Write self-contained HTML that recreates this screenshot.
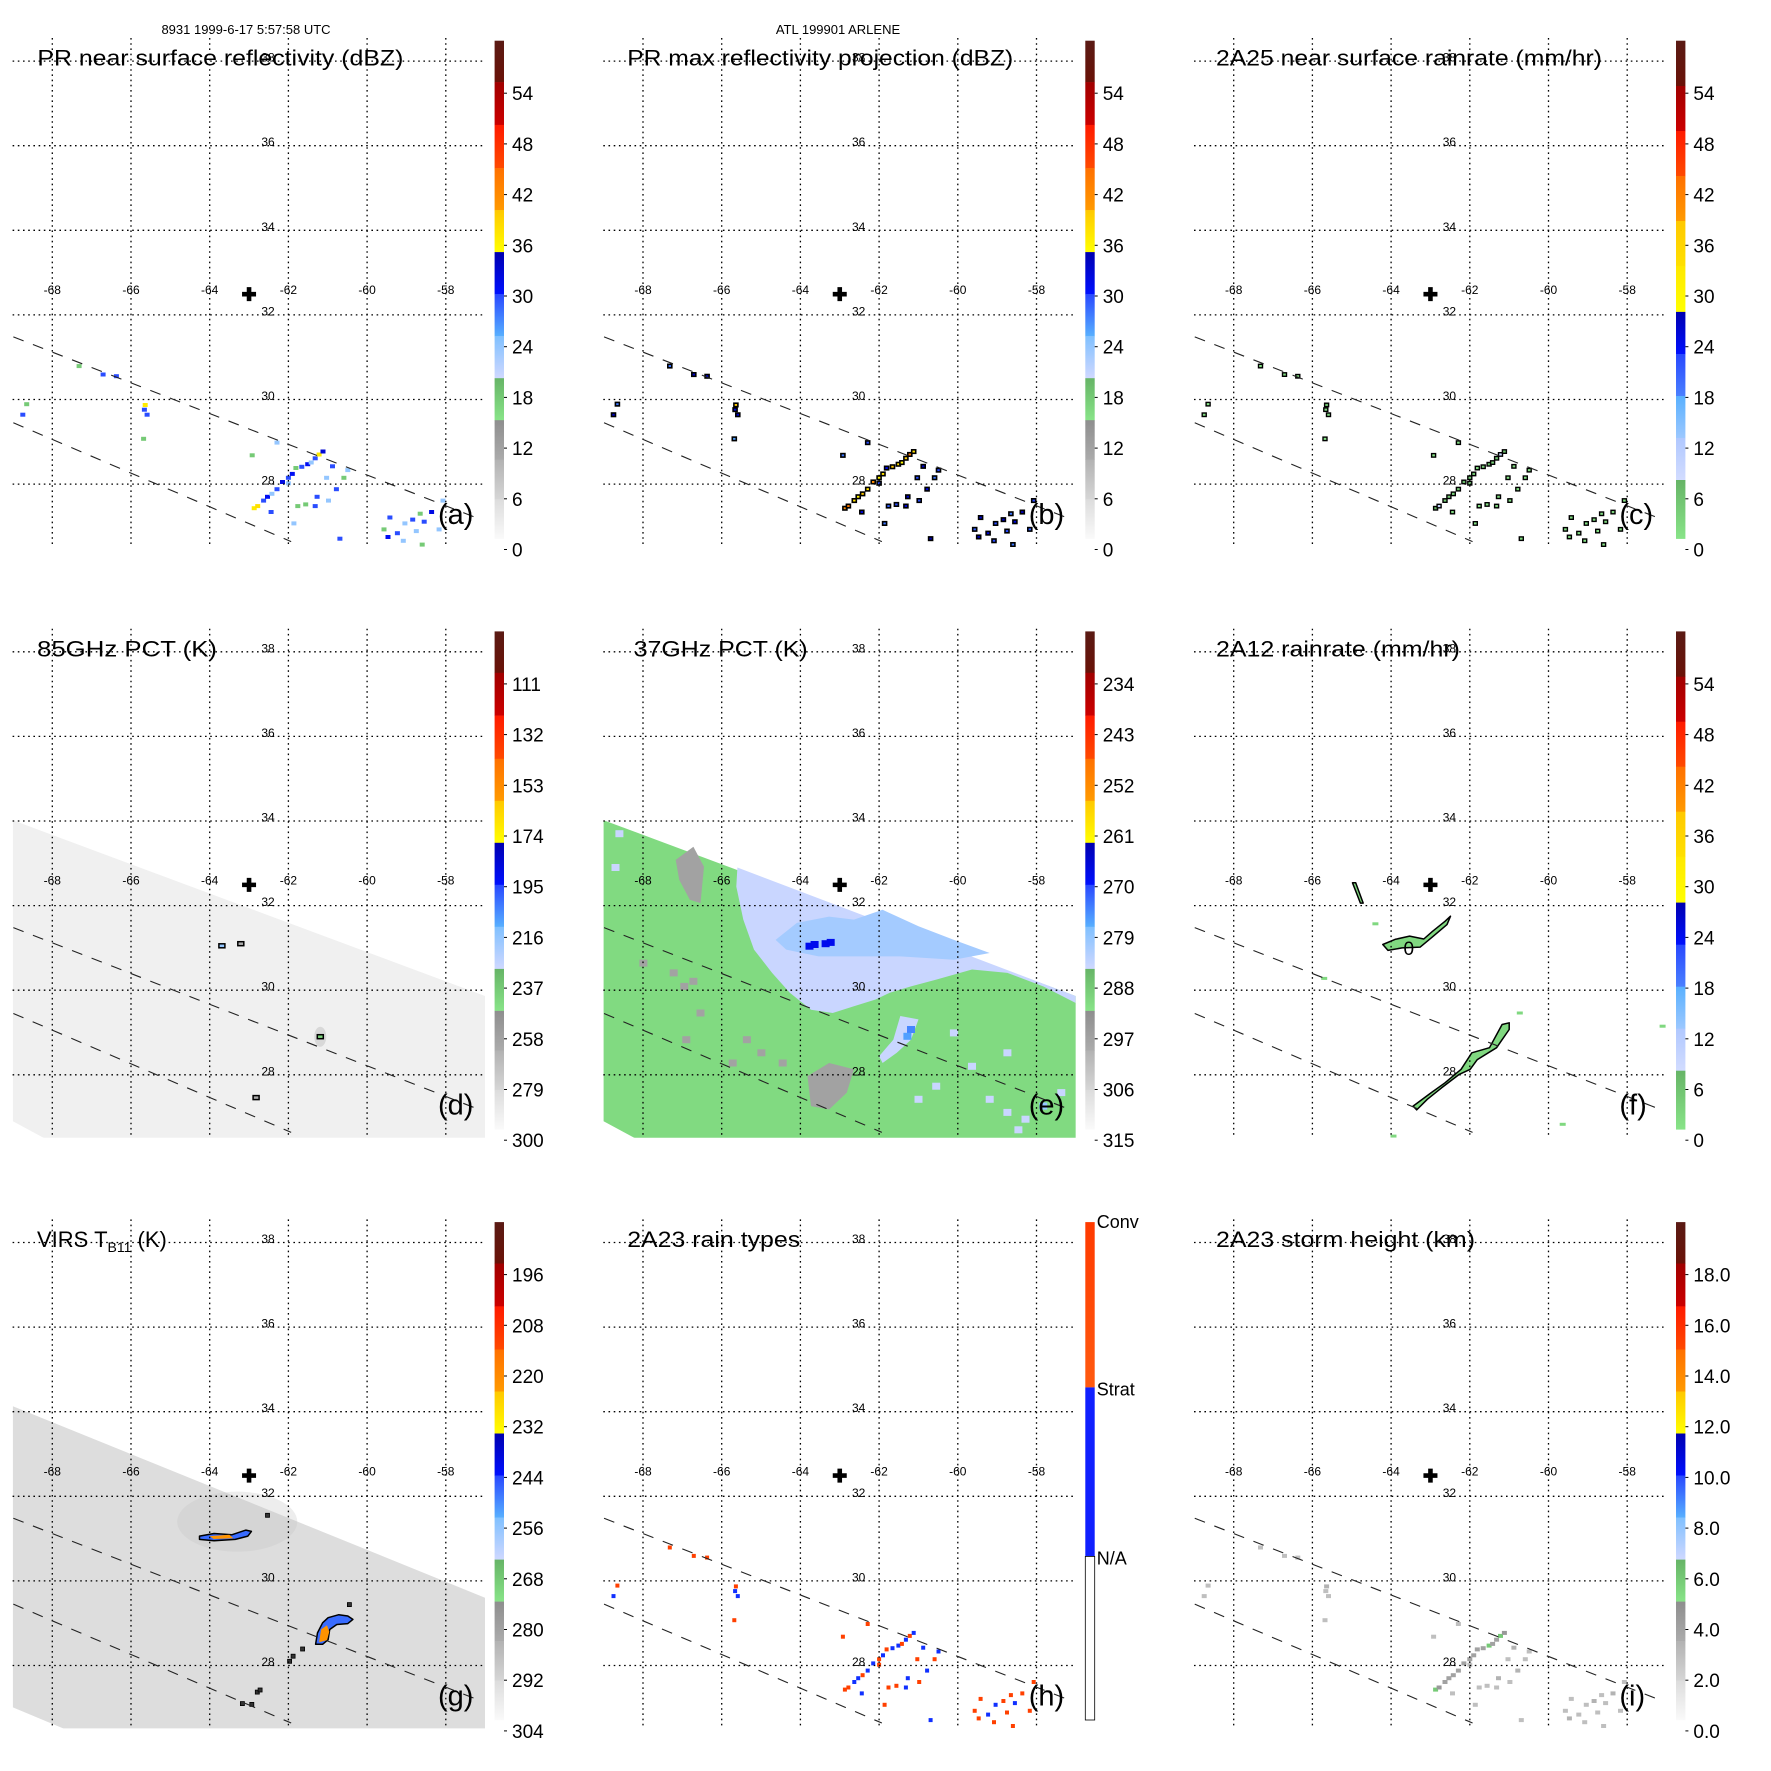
<!DOCTYPE html>
<html><head><meta charset="utf-8"><style>
html,body{margin:0;padding:0;background:#fff;}
svg{display:block;font-family:"Liberation Sans",Arial,sans-serif;}
</style></head><body>
<svg id="root" xmlns="http://www.w3.org/2000/svg" width="1771" height="1771" viewBox="0 0 1771 1771">
<rect x="0" y="0" width="1771" height="1771" fill="#fff"/>
<text x="246" y="34" font-size="13" text-anchor="middle">8931 1999-6-17 5:57:58 UTC</text>
<text x="838" y="34" font-size="13" text-anchor="middle">ATL 199901 ARLENE</text>
</svg>
<script>
// ---------------- data ----------------
const lonTicks = [-68,-66,-64,-62,-60,-58];
const latTicks = [38,36,34,32,30,28];
const centerLon = -63.0, centerLat = 32.49;
const swathUpperLon = [-68.99,-57.10];
const swathUpperLat = [31.48,27.16];
const swathLowerLon = [-68.99,-61.93];
const swathLowerLat = [29.45,26.64];

const stormLon = [-62.87,-62.78,-62.63,-62.53,-62.42,-62.29,-62.15,-62.00,-61.90,-61.81,-61.66,-61.51,-61.42,-61.32,-61.22,-61.12,
 -60.88,-61.03,-60.78,-60.59,-60.49,-61.27,-61.56,-61.76,-61.32,-60.98,-61.86,-60.69,-62.00,-62.44,
 -59.42,-59.57,-59.47,-59.04,-58.84,-58.65,-58.75,-58.55,-58.36,-58.17,-59.08,-58.60,-59.23,-58.07,
 -67.32,-66.71,-66.37,-68.65,-68.75,-65.64,-65.66,-65.59,-65.68,-62.92,-62.29];
const stormLat = [27.43,27.48,27.61,27.70,27.77,27.88,28.05,28.15,28.24,28.38,28.41,28.47,28.51,28.61,28.70,28.77,
 28.42,28.15,27.88,28.15,28.33,27.70,27.52,27.48,27.48,27.61,27.07,26.71,28.02,27.34,
 27.21,26.93,26.75,27.07,27.16,27.30,26.89,27.11,27.34,26.93,26.66,26.57,26.84,27.61,
 30.79,30.59,30.55,29.89,29.64,29.87,29.76,29.64,29.07,28.68,28.98];
const aVals = [37,38,30,31,24,30,32,30,31,18,30,31,24,30,37,33, 30,24,30,18,24,30,18,18,30,24,24,30,24,30, 30,18,31,24,30,18,24,30,32,24,24,18,30,24, 18,30,30,18,30,37,30,30,18,18,24];
const bVals = [42,44,38,36,40,38,42,36,38,32,40,38,36,40,44,38, 34,30,33,28,30,34,30,29,33,30,28,35,30,33, 33,29,35,30,34,28,30,33,35,29,30,28,33,30, 28,34,33,28,34,40,33,34,26,28,30];
const cVals = [8,10,5,5,4,6,8,5,6,3,5,6,4,6,10,7, 3,2,3,2,2,3,2,2,3,2,2,3,2,3, 3,2,4,2,3,2,2,3,4,2,2,2,3,2, 1,3,3,1,3,6,3,3,1,1,2];
const hTypes = [2,2,1,1,2,1,1,2,1,2,1,1,2,1,2,1, 1,2,1,2,1,1,2,2,1,2,2,1,2,1, 2,2,2,1,2,2,2,1,2,2,2,2,1,2, 2,2,2,2,1,2,1,1,2,2,2];
const iVals = [6,4.5,4,4,4,4,4,4,4,4,4,6,4,4,6,4.5, 3.5,3,3.5,3,3,3.5,3,3,3,3,3,3,3,3, 3,3,3.5,3,3.5,3,3,3,3.5,3,3,3,3,3, 3,3,3,3,3,3.5,3,3,3,3,3];

const ticksA = [54,48,42,36,30,24,18,12,6,0];
const ticksD = [111,132,153,174,195,216,237,258,279,300];
const ticksE = [234,243,252,261,270,279,288,297,306,315];
const ticksG = [196,208,220,232,244,256,268,280,292,304];
const ticksI = ["18.0","16.0","14.0","12.0","10.0","8.0","6.0","4.0","2.0","0.0"];
const rainTypeLabels = ["Conv","Strat","N/A"];

const swathLon = [-69.0,-57.0,-57.0,-68.0,-69.0];
const swathLat = [34.02,29.86,26.4,26.4,26.9];
const swathGLon = [-69.0,-57.0,-57.0,-67.43,-69.0];
const swathGLat = [34.13,29.6,26.4,26.4,27.01];
const dSwathVal = 290, eSwathVal = 290.5, gSwathVal = 292.5;

const dBlobLon = [-63.69,-63.21,-61.19,-62.82];
const dBlobLat = [31.05,31.10,28.90,27.46];
const dBlobVal = [216,262,240,262];

const eLavLon = [-65.6,-57.0,-57.01,-57.83,-58.74,-59.64,-60.55,-61.19,-61.73,-62.09,-62.64,-63.18,-63.73,-64.27,-64.72,-65.18,-65.45,-65.63];
const eLavLat = [32.9,29.86,29.70,30.09,30.41,30.49,30.25,30.09,29.94,29.78,29.62,29.46,29.54,29.94,30.41,30.96,31.67,32.45];
const eLavVal = 284;
const eTailLon = [-61.46,-61.00,-61.19,-61.55,-61.91,-62.0,-61.64];
const eTailLat = [29.39,29.31,28.83,28.52,28.28,28.44,28.83];
const eBlueLon = [-64.63,-64.09,-63.27,-62.64,-61.91,-61.00,-60.10,-59.19,-60.10,-61.46,-62.64,-63.54,-64.36];
const eBlueLat = [31.19,31.59,31.74,31.67,31.90,31.51,31.19,30.88,30.72,30.80,30.80,30.80,30.96];
const eBlueVal = 280.5;
const eGrayStreakLon = [-67.17,-66.72,-66.45,-66.54,-66.81,-67.08];
const eGrayStreakLat = [33.08,33.39,32.92,32.06,32.14,32.61];
const eGrayBlobLon = [-63.82,-63.27,-62.64,-62.82,-63.27,-63.73];
const eGrayBlobLat = [27.97,28.28,28.13,27.58,27.18,27.26];
const eGrayVal = 297;
const eCellLon = [-63.77,-63.64,-63.36,-63.23,-61.19,-61.28, -67.22,-66.72,-66.95,-66.54,-66.90,-65.72,-65.36,-64.99,-64.45,-67.99,
 -59.19,-58.74,-58.28,-59.64,-57.37,-60.55,-61.0,-57.83,-60.10,-58.74,-68.7,-68.6,-58.46];
const eCellLat = [31.04,31.08,31.10,31.13,29.07,28.91, 30.41,30.21,30.09,29.46,28.83,28.28,28.83,28.52,28.28,30.64,
 27.42,27.11,26.95,28.2,27.58,27.73,27.42,27.26,28.99,28.52,32.9,33.7,26.7];
const eCellVal = [268,268,268,268,274,276, 297,297,297,297,297,297,297,297,297,297,
 284,284,284,284,284,284,284,279,284,284,284,284,284];

const fMainLon = [-63.44,-62.99,-62.63,-62.22,-61.95,-61.50,-61.32,-61.18,-61.0,-61.0,-61.18,-61.32,-61.81,-61.99,-62.27,-62.72,-63.08,-63.35];
const fMainLat = [27.26,27.57,27.81,28.13,28.52,28.64,28.95,29.19,29.23,29.07,28.83,28.64,28.36,28.13,28.01,27.69,27.42,27.17];
const fEyeLon = [-64.21,-63.90,-63.53,-63.17,-62.95,-62.63,-62.49,-62.58,-62.95,-63.26,-63.72,-64.08];
const fEyeLat = [31.08,31.20,31.28,31.21,31.39,31.63,31.75,31.55,31.26,31.02,31.00,30.94];
const fStreakLon = [-64.98,-64.90,-64.71,-64.78];
const fStreakLat = [32.54,32.54,32.06,32.06];
const fBitLon = [-64.40,-60.73,-59.64,-63.94,-65.7,-57.1];
const fBitLat = [31.57,29.46,26.83,26.55,30.28,29.15];
const fVal = 3;

const gUpperLon = [-64.26,-63.89,-63.44,-63.08,-62.94,-63.03,-63.35,-63.89,-64.26];
const gUpperLat = [31.06,31.12,31.09,31.20,31.17,31.06,30.98,30.95,30.98];
const gUpperCoreLon = [-64.0,-63.5,-63.4,-63.9];
const gUpperCoreLat = [31.06,31.09,31.01,30.99];
const gLowerLon = [-61.31,-61.26,-61.13,-60.99,-60.72,-60.49,-60.36,-60.49,-60.77,-60.95,-60.99,-61.13];
const gLowerLat = [28.50,28.77,29.01,29.13,29.20,29.17,29.09,28.99,28.97,28.85,28.61,28.50];
const gLowerCoreLon = [-61.22,-61.17,-61.02,-60.96,-61.02];
const gLowerCoreLat = [28.55,28.85,28.95,28.80,28.60];
const gBlobVal = 247, gCoreVal = 222;
const gDotLon = [-61.97,-61.88,-61.64,-62.79,-62.72,-63.17,-62.93,-60.45,-62.53];
const gDotLat = [28.10,28.22,28.39,27.37,27.42,27.10,27.08,29.44,31.55];

// ---------------- geometry ----------------
const PITCH = 590.7;
const X = lon => 52.3 + (lon + 68) * 39.35;
const Y = lat => 61.1 + (38 - lat) * 42.3;
const MAPX0 = 12.6, MAPX1 = 485, MAPY0 = 38, MAPY1 = 547;
const BAR_X = 494.6, BAR_W = 9.4, BAR_Y0 = 40.7, BAR_Y1 = 538.6;
const TICK_Y0 = 93.2, TICK_DY = 50.7;

const bandBounds = [40.7,82.1,124.9,168.1,210.1,252.1,294.1,336.1,378.2,420.2,459.7,499.2,538.6];
const bandColors = [['#5a1a14','#6a1208'],['#a00000','#cc0000'],['#ff1a00','#ff4a00'],['#ff7000','#ff9a00'],['#ffc800','#ffff00'],
 ['#0000b0','#0010ff'],['#2848ff','#58b0ff'],['#80c0ff','#cfd8ff'],['#66b466','#88e488'],['#8e8e8e','#ababab'],['#b2b2b2','#d6d6d6'],['#dcdcdc','#fafafa']];
const bandBoundsC = [40.7,86,131,176,221,266,311.9,354,396,438,480,538.6];
const bandColorsC = [['#5a1a14','#6a1208'],['#a00000','#cc0000'],['#ff1a00','#ff4a00'],['#ff7000','#ff9a00'],['#ffc800','#ffe000'],['#ffe800','#ffff00'],
 ['#0000b0','#0010ff'],['#2848ff','#4a80ff'],['#58b0ff','#9cc8ff'],['#b0c8ff','#d2dcff'],['#66b466','#88e488']];

const NS = 'http://www.w3.org/2000/svg';
const root = document.getElementById('root');
function mk(tag, attrs, parent) {
  const e = document.createElementNS(NS, tag);
  for (const k in attrs) e.setAttribute(k, attrs[k]);
  (parent || root).appendChild(e);
  return e;
}
function h2r(h){return [parseInt(h.substr(1,2),16),parseInt(h.substr(3,2),16),parseInt(h.substr(5,2),16)];}
function mix(a,b,t){const A=h2r(a),B=h2r(b);return 'rgb('+A.map((v,i)=>Math.round(v+(B[i]-v)*t)).join(',')+')';}
function tickY(ticks, v) {
  const t0 = parseFloat(ticks[0]), t1 = parseFloat(ticks[1]);
  return TICK_Y0 + (v - t0) / (t1 - t0) * TICK_DY;
}
function colorAt(y, bounds, colors) {
  y = Math.max(bounds[0]+0.01, Math.min(bounds[bounds.length-1]-0.01, y));
  for (let i = 0; i < colors.length; i++) {
    if (y >= bounds[i] && y < bounds[i+1]) {
      const f = (y - bounds[i]) / (bounds[i+1] - bounds[i]);
      return mix(colors[i][0], colors[i][1], f);
    }
  }
  return '#fff';
}
function valColor(ticks, v, typeC) {
  const y = tickY(ticks, v);
  return typeC ? colorAt(y, bandBoundsC, bandColorsC) : colorAt(y, bandBounds, bandColors);
}
function pts(lons, lats){return lons.map((l,i)=>X(l).toFixed(1)+','+Y(lats[i]).toFixed(1)).join(' ');}

// ---------------- panel builder ----------------
const panels = [
 {id:'a', col:0,row:0, title:'PR near surface reflectivity (dBZ)', tx:37.4, tw:366},
 {id:'b', col:1,row:0, title:'PR max reflectivity projection (dBZ)', tx:36.5, tw:386},
 {id:'c', col:2,row:0, title:'2A25 near surface rainrate (mm/hr)', tx:34.6, tw:386},
 {id:'d', col:0,row:1, title:'85GHz PCT (K)', tx:37, tw:180},
 {id:'e', col:1,row:1, title:'37GHz PCT (K)', tx:43, tw:174},
 {id:'f', col:2,row:1, title:'2A12 rainrate (mm/hr)', tx:34.6, tw:244},
 {id:'g', col:0,row:2, title:'VIRS', tx:37, tw:147},
 {id:'h', col:1,row:2, title:'2A23 rain types', tx:36.5, tw:173},
 {id:'i', col:2,row:2, title:'2A23 storm height (km)', tx:34.6, tw:259}
];

function drawCells(g, lons, lats, colors, w, h, stroke, name) {
  lons.forEach((lon, i) => {
    const r = mk('rect', {x:(X(lon)-w/2).toFixed(1), y:(Y(lats[i])-h/2).toFixed(1), width:w, height:h, fill:colors[i]}, g);
    if (stroke) { r.setAttribute('stroke', '#000'); r.setAttribute('stroke-width', stroke); }
    
    
  });
}
function poly(g, lons, lats, fill, stroke, name, sw) {
  const p = mk('polygon', {points: pts(lons, lats), fill: fill}, g);
  if (stroke) { p.setAttribute('stroke', stroke); p.setAttribute('stroke-width', sw || 1.5); p.setAttribute('stroke-linejoin','round'); }
  
  
  return p;
}

panels.forEach(P => {
  const g = mk('g', {transform:'translate(' + (P.col*PITCH).toFixed(1) + ',' + (P.row*PITCH).toFixed(1) + ')'});
  
  
  const cp = mk('clipPath', {id:'clip-' + P.id}, g);
  mk('rect', {x:MAPX0, y:MAPY0, width:MAPX1-MAPX0, height:MAPY1-MAPY0}, cp);
  const map = mk('g', {'clip-path':'url(#clip-' + P.id + ')'}, g);
  
  

  if (P.id === 'a') drawCells(map, stormLon, stormLat, aVals.map(v => valColor(ticksA, v)), 5, 4, 0, 'reflectivity-cell');
  if (P.id === 'b') drawCells(map, stormLon, stormLat, bVals.map(v => valColor(ticksA, v)), 4, 3.5, 1.6, 'max-reflectivity-cell');
  if (P.id === 'c') drawCells(map, stormLon, stormLat, cVals.map(v => valColor(ticksA, v, true)), 4, 3.5, 1.4, 'rainrate-cell');
  if (P.id === 'h') drawCells(map, stormLon, stormLat, hTypes.map(t => t === 2 ? '#ff4000' : '#1030ff'), 4, 4, 0, 'rain-type-cell');
  if (P.id === 'i') drawCells(map, stormLon, stormLat, iVals.map(v => valColor(ticksA, v*3)), 5, 4, 0, 'storm-height-cell');
  if (P.id === 'd') {
    poly(map, swathLon, swathLat, valColor(ticksD, dSwathVal), null, 'tmi-swath-85ghz');
    mk('ellipse', {cx:X(-61.19), cy:Y(28.9), rx:6, ry:10, fill:'#c8c8c8', opacity:0.6}, map);
    drawCells(map, dBlobLon, dBlobLat, dBlobVal.map(v => valColor(ticksD, v)), 6, 4, 1.5, 'pct85-cold-cell');
  }
  if (P.id === 'e') {
    poly(map, swathLon, swathLat, valColor(ticksE, eSwathVal), null, 'tmi-swath-37ghz');
    poly(map, eLavLon, eLavLat, valColor(ticksE, eLavVal), null, 'pct37-cold-region');
    poly(map, eTailLon, eTailLat, valColor(ticksE, eLavVal), null, 'pct37-cold-tail');
    poly(map, eBlueLon, eBlueLat, valColor(ticksE, eBlueVal), null, 'pct37-eyewall-region');
    poly(map, eGrayStreakLon, eGrayStreakLat, valColor(ticksE, eGrayVal), null, 'pct37-warm-streak');
    poly(map, eGrayBlobLon, eGrayBlobLat, valColor(ticksE, eGrayVal), null, 'pct37-warm-patch');
    drawCells(map, eCellLon, eCellLat, eCellVal.map(v => valColor(ticksE, v)), 8, 7, 0, 'pct37-cell');
  }
  if (P.id === 'f') {
    poly(map, fMainLon, fMainLat, valColor(ticksA, fVal, true), '#000', 'rain-band-region');
    poly(map, fEyeLon, fEyeLat, valColor(ticksA, fVal, true), '#000', 'eyewall-rain-region');
    poly(map, fStreakLon, fStreakLat, valColor(ticksA, fVal, true), '#000', 'outer-rain-streak');
    drawCells(map, fBitLon, fBitLat, fBitLon.map(() => valColor(ticksA, fVal, true)), 6, 3, 0, 'rain-fragment');
    const z = mk('text', {x:X(-63.55), y:Y(31.0)+7, 'font-size':19, 'text-anchor':'middle'}, map);
    z.textContent = '0';
    
    
  }
  if (P.id === 'g') {
    poly(map, swathGLon, swathGLat, valColor(ticksG, gSwathVal), null, 'virs-swath');
    mk('ellipse', {cx:X(-63.3), cy:Y(31.4), rx:60, ry:30, fill:'#c4c4c4', opacity:0.3}, map);
    poly(map, gUpperLon, gUpperLat, valColor(ticksG, gBlobVal), '#000', 'cold-cloud-upper');
    poly(map, gUpperCoreLon, gUpperCoreLat, valColor(ticksG, gCoreVal), null, 'cold-core-upper');
    poly(map, gLowerLon, gLowerLat, valColor(ticksG, gBlobVal), '#000', 'cold-cloud-lower');
    poly(map, gLowerCoreLon, gLowerCoreLat, valColor(ticksG, gCoreVal), null, 'cold-core-lower');
    drawCells(map, gDotLon, gDotLat, gDotLon.map(() => '#333'), 4, 4, 0.8, 'cold-cloud-dot');
  }

  lonTicks.forEach(lon => {
    const l = mk('line', {x1:X(lon), y1:MAPY0, x2:X(lon), y2:MAPY1, stroke:'#000', 'stroke-width':1.3, 'stroke-dasharray':'1.6,3.6'}, g);
    
    
    const t = mk('text', {x:X(lon), y:294, 'font-size':12, 'text-anchor':'middle'}, g);
    t.textContent = String(lon);
    
    
  });
  latTicks.forEach(lat => {
    const l = mk('line', {x1:MAPX0, y1:Y(lat), x2:MAPX1, y2:Y(lat), stroke:'#000', 'stroke-width':1.3, 'stroke-dasharray':'1.6,3.6'}, g);
    
    
    const t = mk('text', {x:268, y:Y(lat)+0.5, 'font-size':12, 'text-anchor':'middle'}, g);
    t.textContent = String(lat);
    
    
  });
  [[swathUpperLon, swathUpperLat],[swathLowerLon, swathLowerLat]].forEach(s => {
    const l = mk('line', {x1:X(s[0][0]), y1:Y(s[1][0]), x2:X(s[0][1]), y2:Y(s[1][1]), stroke:'#222', 'stroke-width':1.1, 'stroke-dasharray':'11,10'}, g);
    
    
  });
  const cx = X(centerLon), cy = Y(centerLat);
  const cr = mk('path', {d:'M'+(cx-7)+' '+(cy-2.3)+'h4.7v-4.7h4.6v4.7h4.7v4.6h-4.7v4.7h-4.6v-4.7h-4.7z', fill:'#000'}, g);
  
  

  const tt = mk('text', {x:P.tx, y:65.7, 'font-size':22}, g);
  if (P.id === 'g') {
    tt.innerHTML = 'VIRS T<tspan font-size="14" dy="5">B11</tspan><tspan dy="-5"> (K)</tspan>';
  } else {
    tt.textContent = P.title;
    tt.setAttribute('textLength', P.tw);
    tt.setAttribute('lengthAdjust', 'spacingAndGlyphs');
  }
  
  
  const pl = mk('text', {x:438, y:524, 'font-size':29}, g);
  pl.textContent = '(' + P.id + ')';
  
  

  const cb = mk('g', {}, g);
  
  
  if (P.id === 'h') {
    const gr1 = mk('linearGradient', {id:'hg1', x1:0, y1:0, x2:0, y2:1}, cb);
    mk('stop', {offset:0, 'stop-color':'#ff3a00'}, gr1); mk('stop', {offset:1, 'stop-color':'#ff5a10'}, gr1);
    mk('rect', {x:BAR_X, y:BAR_Y0, width:BAR_W, height:206-BAR_Y0, fill:'url(#hg1)'}, cb);
    mk('rect', {x:BAR_X, y:206, width:BAR_W, height:169, fill:'#1020ff'}, cb);
    mk('rect', {x:BAR_X, y:375, width:BAR_W, height:BAR_Y1-375, fill:'#fff', stroke:'#000', 'stroke-width':0.8}, cb);
    [40.5, 208, 377].forEach((yy, i) => {
      const t = mk('text', {x:BAR_X+BAR_W+2, y:yy+6, 'font-size':18}, cb);
      t.textContent = rainTypeLabels[i];
      
      
    });
  } else {
    const typeC = (P.id === 'c' || P.id === 'f');
    const bb = typeC ? bandBoundsC : bandBounds, bc = typeC ? bandColorsC : bandColors;
    bc.forEach((c, i) => {
      const gid = 'gr-' + P.id + '-' + i;
      const gr = mk('linearGradient', {id:gid, x1:0, y1:0, x2:0, y2:1}, cb);
      mk('stop', {offset:0, 'stop-color':c[0]}, gr);
      mk('stop', {offset:1, 'stop-color':c[1]}, gr);
      const r = mk('rect', {x:BAR_X, y:bb[i], width:BAR_W, height:(bb[i+1]-bb[i]+0.3).toFixed(1), fill:'url(#'+gid+')'}, cb);
      
      
    });
    const ticks = {a:ticksA,b:ticksA,c:ticksA,d:ticksD,e:ticksE,f:ticksA,g:ticksG,i:ticksI}[P.id];
    ticks.forEach((v, i) => {
      const yy = TICK_Y0 + i*TICK_DY;
      mk('line', {x1:BAR_X+BAR_W, y1:yy, x2:BAR_X+BAR_W+3, y2:yy, stroke:'#000', 'stroke-width':1}, cb);
      const t = mk('text', {x:512, y:yy+7, 'font-size':19}, cb);
      t.textContent = String(v);
      
      
    });
  }
});
</script>
</body></html>
